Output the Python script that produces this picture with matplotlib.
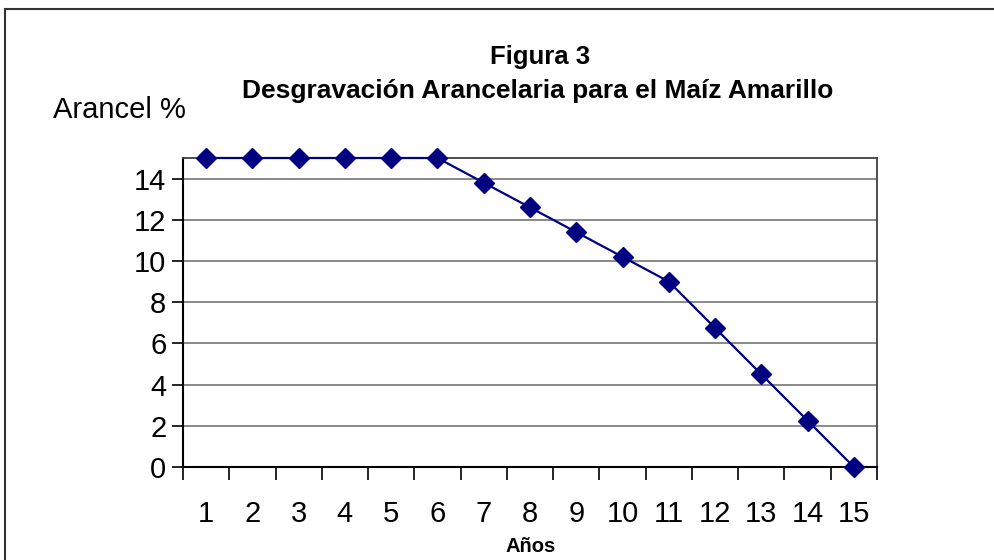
import matplotlib
matplotlib.use("Agg")
import matplotlib.pyplot as plt
from matplotlib.patches import Rectangle
import numpy as np

plt.rcParams['font.family'] = ['Liberation Sans', 'DejaVu Sans']

years = ['1', '2', '3', '4', '5', '6', '7', '8', '9', '10', '11', '12', '13', '14', '15']
arancel = [15, 15, 15, 15, 15, 15, 13.8, 12.6, 11.4, 10.2, 9.0, 6.75, 4.5, 2.25, 0.0]
yticks = [0, 2, 4, 6, 8, 10, 12, 14]

W, H = 994, 560
fig = plt.figure(figsize=(W / 100, H / 100), dpi=100)

# outer chart border (extends beyond right and bottom edges)
fig.patches.append(Rectangle((5 / W, -0.1), 1.2, (H - 9) / H + 0.1,
                             transform=fig.transFigure, fill=False,
                             edgecolor='#333333', linewidth=1.5))

ax = fig.add_axes([183 / W, (H - 467) / H, (877 - 183) / W, (467 - 158) / H])
x = np.arange(1, len(years) + 1)
ax.plot(x, arancel, color='#000080', linewidth=1.6, marker='D', markersize=10.5,
        markerfacecolor='#000080', markeredgecolor='#000080', zorder=5, clip_on=False)

ax.set_xlim(0.5, len(years) + 0.5)
ax.set_ylim(0, 15)
ax.set_yticks(yticks)
ax.set_yticklabels([str(v) for v in yticks], fontsize=21)
for v in yticks[1:]:
    ax.axhline(v, color='#808080', linewidth=1.3, zorder=1)

# category tick marks between categories, labels at centers
ax.set_xticks(np.arange(0.5, len(years) + 1, 1.0))
ax.set_xticklabels([])
ax.set_xticks(x, minor=True)
ax.set_xticklabels(years, minor=True, fontsize=21)
ax.tick_params(axis='x', which='major', length=9, width=1.2, direction='out', color='black')
ax.tick_params(axis='x', which='minor', length=0, pad=24)
ax.tick_params(axis='y', length=8, width=1.2, direction='out', pad=4)

for s in ['left', 'bottom']:
    ax.spines[s].set_color('black')
    ax.spines[s].set_linewidth(1.5)
for s in ['top', 'right']:
    ax.spines[s].set_color('#404040')
    ax.spines[s].set_linewidth(1.3)

fig.text(540 / W, 1 - 57 / H, 'Figura 3', ha='center', va='center',
         fontsize=18.5, fontweight='bold')
fig.text(538 / W, 1 - 91 / H, 'Desgravación Arancelaria para el Maíz Amarillo',
         ha='center', va='center', fontsize=19, fontweight='bold')
fig.text(119 / W, 1 - 110 / H, 'Arancel %', ha='center', va='center', fontsize=21)
fig.text(531 / W, 1 - 546 / H, 'Años', ha='center', va='center',
         fontsize=14.5, fontweight='bold')

fig.savefig('out.png', dpi=100)
